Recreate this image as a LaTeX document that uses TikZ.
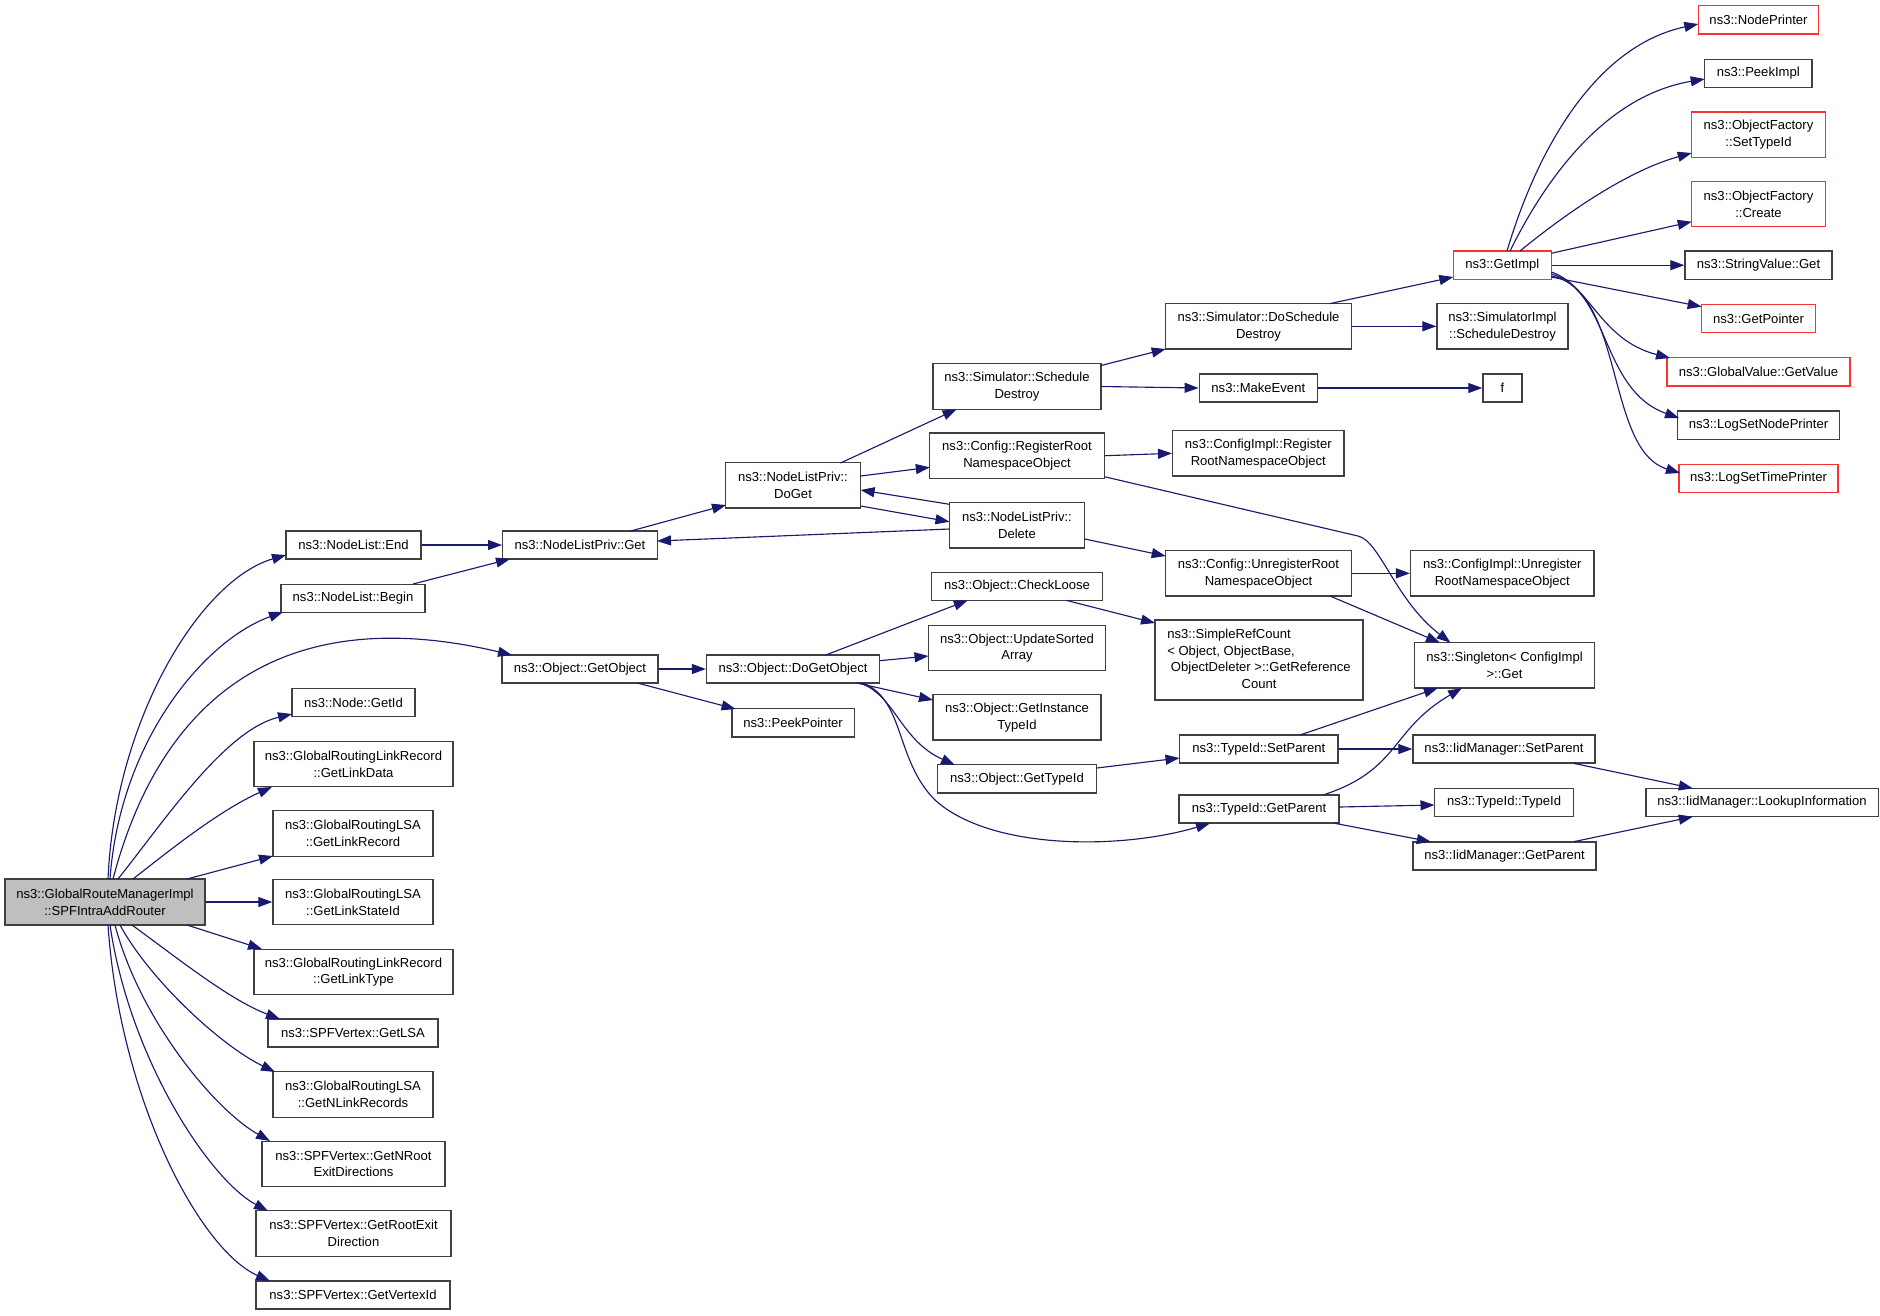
\documentclass[tikz,border=0pt]{standalone}
\usepackage{fontspec}
\setmainfont{Liberation Sans}
\usetikzlibrary{arrows.meta,calc}
\definecolor{edgec}{RGB}{25,25,112}
\definecolor{boxc}{RGB}{64,64,64}
\definecolor{redc}{RGB}{255,48,48}
\definecolor{mainfill}{RGB}{191,191,191}
\newcommand\nodefont{\fontsize{9.8}{12.5}\selectfont}
\tikzset{
 box/.style={draw=boxc, line width=1.05pt, fill=white, inner sep=0pt, align=center, font=\nodefont, text=black},
 redbox/.style={box, draw=redc},
 sz/.style 2 args={minimum width=#1*0.75pt, minimum height=#2*0.75pt},
 conn/.style={draw=edgec, line width=0.85pt, -{Triangle[length=10.5pt,width=7.5pt]}},
}
\begin{document}
\begin{tikzpicture}[x=0.75pt,y=-0.75pt]
\useasboundingbox (0,0) rectangle (1880,1315);
% ---- left column
\node[box, fill=mainfill, sz={200}{46}] (main) at (105,902) {ns3::GlobalRouteManagerImpl\\::SPFIntraAddRouter};
\node[box, sz={135}{28.3}] (end) at (353.5,545) {ns3::NodeList::End};
\node[box, sz={144}{28.3}] (begin) at (353,598.5) {ns3::NodeList::Begin};
\node[box, sz={123}{28.3}] (getid) at (353.5,702.5) {ns3::Node::GetId};
\node[box, sz={199}{45.5}] (linkdata) at (353.5,764) {ns3::GlobalRoutingLinkRecord\\::GetLinkData};
\node[box, sz={160}{45.5}] (linkrecord) at (353,833.5) {ns3::GlobalRoutingLSA\\::GetLinkRecord};
\node[box, sz={160}{45.5}] (linkstateid) at (353,902) {ns3::GlobalRoutingLSA\\::GetLinkStateId};
\node[box, sz={199}{45.5}] (linktype) at (353.5,972) {ns3::GlobalRoutingLinkRecord\\::GetLinkType};
\node[box, sz={170}{28.3}] (getlsa) at (353,1033) {ns3::SPFVertex::GetLSA};
\node[box, sz={160}{45.5}] (nlinkrec) at (353,1094.5) {ns3::GlobalRoutingLSA\\::GetNLinkRecords};
\node[box, sz={183}{45.5}] (nroot) at (353.5,1164) {ns3::SPFVertex::GetNRoot\\ExitDirections};
\node[box, sz={195}{45.5}] (rootexit) at (353.5,1233.5) {ns3::SPFVertex::GetRootExit\\Direction};
\node[box, sz={194}{28.3}] (vertexid) at (353,1295) {ns3::SPFVertex::GetVertexId};
% ---- second columns
\node[box, sz={154.5}{28.3}] (nlpget) at (580,545) {ns3::NodeListPriv::Get};
\node[box, sz={134.8}{45.5}] (doget) at (793,485.3) {ns3::NodeListPriv::\\DoGet};
\node[box, sz={156}{28.3}] (getobject) at (580,669) {ns3::Object::GetObject};
\node[box, sz={172.8}{28.3}] (dogetobject) at (793,669) {ns3::Object::DoGetObject};
\node[box, sz={122.4}{28.3}] (peekpointer) at (793,722.7) {ns3::PeekPointer};
\node[box, sz={168}{45.5}] (schedd) at (1017,386.5) {ns3::Simulator::Schedule\\Destroy};
\node[box, sz={174.6}{45.5}] (regroot) at (1017,455.7) {ns3::Config::RegisterRoot\\NamespaceObject};
\node[box, sz={135}{45.5}] (delete) at (1017,525.3) {ns3::NodeListPriv::\\Delete};
\node[box, sz={170.6}{28.3}] (checkloose) at (1017,586.5) {ns3::Object::CheckLoose};
\node[box, sz={177.5}{45.5}] (updsorted) at (1017,648) {ns3::Object::UpdateSorted\\Array};
\node[box, sz={168}{45.5}] (getinst) at (1017,717.3) {ns3::Object::GetInstance\\TypeId};
\node[box, sz={159.4}{28.3}] (gettypeid) at (1017,778.7) {ns3::Object::GetTypeId};
\node[box, sz={185.6}{45.5}] (doschedd) at (1258.5,326.3) {ns3::Simulator::DoSchedule\\Destroy};
\node[box, sz={118}{28.3}] (makeevent) at (1258.3,388) {ns3::MakeEvent};
\node[box, sz={171.3}{45.5}] (cfgregister) at (1258.3,453.3) {ns3::ConfigImpl::Register\\RootNamespaceObject};
\node[box, sz={185.6}{45.5}] (unregroot) at (1258.5,573.3) {ns3::Config::UnregisterRoot\\NamespaceObject};
\node[box, sz={208}{80.3}] (simplerc) at (1259,660) {\begin{tabular}{@{}l@{}}ns3::SimpleRefCount\\< Object, ObjectBase,\\\ ObjectDeleter >::GetReference\\\multicolumn{1}{@{}c@{}}{Count}\end{tabular}};
\node[box, sz={158.5}{28.3}] (tsetparent) at (1258.7,749) {ns3::TypeId::SetParent};
\node[box, sz={160}{28.3}] (tgetparent) at (1259,809) {ns3::TypeId::GetParent};
\node[box, sz={131}{45.5}] (simimpl) at (1502.5,326.3) {ns3::SimulatorImpl\\::ScheduleDestroy};
\node[box, sz={39}{28.3}] (f) at (1502.5,388) {f};
\node[redbox, sz={98}{28.3}] (getimpl) at (1502.3,265.2) {ns3::GetImpl};
\node[box, sz={183.3}{45.5}] (cfgunreg) at (1502.3,573.3) {ns3::ConfigImpl::Unregister\\RootNamespaceObject};
\node[box, sz={180}{45.5}] (singleton) at (1504.5,665.3) {ns3::Singleton< ConfigImpl\\ >::Get};
\node[box, sz={182}{28.3}] (isetparent) at (1504,749) {ns3::IidManager::SetParent};
\node[box, sz={139.5}{28.3}] (ttypeid) at (1504,802.5) {ns3::TypeId::TypeId};
\node[box, sz={183}{28.3}] (igetparent) at (1504.5,856) {ns3::IidManager::GetParent};
\node[redbox, sz={120.4}{28.3}] (nodeprinter) at (1758.5,19.8) {ns3::NodePrinter};
\node[box, sz={107.3}{28.3}] (peekimpl) at (1758.3,73.5) {ns3::PeekImpl};
\node[redbox, sz={133.6}{45.5}] (settypeid) at (1758.5,134.7) {ns3::ObjectFactory\\::SetTypeId};
\node[redbox, sz={133.6}{45.5}] (create) at (1758.5,204) {ns3::ObjectFactory\\::Create};
\node[box, sz={147}{28.3}] (stringget) at (1758.5,265.2) {ns3::StringValue::Get};
\node[redbox, sz={113.6}{28.3}] (getpointer) at (1758.5,318.5) {ns3::GetPointer};
\node[redbox, sz={183}{28.3}] (gvgetvalue) at (1758.5,371.8) {ns3::GlobalValue::GetValue};
\node[box, sz={161.6}{28.3}] (lognode) at (1758.5,425.2) {ns3::LogSetNodePrinter};
\node[redbox, sz={159}{28.3}] (logtime) at (1758.5,478.5) {ns3::LogSetTimePrinter};
\node[box, sz={232.4}{28.3}] (lookup) at (1762,802.5) {ns3::IidManager::LookupInformation};
% ---- edges from main
\draw[conn] ($(main)+(3,-23)$) .. controls (115,720) and (200,580) .. ($(end)+(-67.5,10)$);
\draw[conn] ($(main)+(5,-23)$) .. controls (120,740) and (205,640) .. ($(begin)+(-70,13.5)$);
\draw[conn] ($(main)+(8,-23)$) .. controls (160,700) and (280,600) .. ($(getobject)+(-68,-14)$);
\draw[conn] ($(main)+(13,-23)$) .. controls (165,820) and (225,730) .. ($(getid)+(-61.5,11.5)$);
\draw[conn] ($(main)+(28,-23)$) .. controls (170,850) and (220,810) .. ($(linkdata)+(-81.5,23)$);
\draw[conn] ($(main)+(82,-23)$) -- ($(linkrecord)+(-80,22.5)$);
\draw[conn] (main.east) -- (linkstateid.west);
\draw[conn] ($(main)+(82,23)$) -- ($(linktype)+(-91.5,-23)$);
\draw[conn] ($(main)+(27,23)$) .. controls (180,960) and (230,1000) .. ($(getlsa)+(-73,-14)$);
\draw[conn] ($(main)+(15,23)$) .. controls (150,980) and (220,1045) .. ($(nlinkrec)+(-78,-22.5)$);
\draw[conn] ($(main)+(10,23)$) .. controls (140,1020) and (215,1110) .. ($(nroot)+(-83.5,-23)$);
\draw[conn] ($(main)+(5,23)$) .. controls (130,1060) and (210,1180) .. ($(rootexit)+(-85.5,-22.5)$);
\draw[conn] ($(main)+(3,23)$) .. controls (120,1100) and (200,1250) .. ($(vertexid)+(-83,-14)$);
% ---- NodeList
\draw[conn] (end.east) -- (nlpget.west);
\draw[conn] ($(begin)+(60,-14.5)$) -- ($(nlpget)+(-70,14)$);
\draw[conn] ($(nlpget)+(50.7,-14)$) -- ($(doget)+(-67,19.7)$);
\draw[conn] ($(doget)+(47.5,-22.3)$) -- ($(schedd)+(-60.4,22.8)$);
\draw[conn] ($(doget)+(67.6,-9.3)$) -- ($(regroot)+(-87.2,11.6)$);
\draw[conn] ($(doget)+(67.6,20.7)$) -- ($(delete)+(-67.5,-3.6)$);
\draw[conn] ($(delete)+(-67.5,-21)$) -- ($(doget)+(67.6,4.7)$);
\draw[conn] ($(delete)+(-67.5,3.7)$) -- ($(nlpget)+(77,-4)$);
\draw[conn] ($(delete)+(67.7,13.7)$) -- ($(unregroot)+(-92.8,-17.3)$);
% ---- Simulator
\draw[conn] ($(schedd)+(84,-21)$) -- ($(doschedd)+(-92.8,22.7)$);
\draw[conn] (schedd.east) -- (makeevent.west);
\draw[conn] (makeevent.east) -- (f.west);
\draw[conn] ($(doschedd)+(71,-22.6)$) -- ($(getimpl)+(-49,11.8)$);
\draw[conn] (doschedd.east) -- (simimpl.west);
% ---- Config
\draw[conn] (regroot.east) -- (cfgregister.west);
\draw[conn] ($(regroot)+(87.4,21)$) -- (1358,536) .. controls (1380,541) and (1395,600) .. ($(singleton)+(-54,-22.6)$);
\draw[conn] (unregroot.east) -- (cfgunreg.west);
\draw[conn] ($(unregroot)+(71.5,22.7)$) -- ($(singleton)+(-64.5,-22.6)$);
% ---- GetImpl
\draw[conn] ($(getimpl)+(4.7,-14.2)$) .. controls (1540,140) and (1600,45) .. ($(nodeprinter)+(-60.2,4.2)$);
\draw[conn] ($(getimpl)+(7.7,-14.2)$) .. controls (1550,170) and (1610,95) .. ($(peekimpl)+(-53.6,5.5)$);
\draw[conn] ($(getimpl)+(17.7,-14.2)$) .. controls (1570,210) and (1630,170) .. ($(settypeid)+(-66.8,18.3)$);
\draw[conn] ($(getimpl)+(49,-11.9)$) -- ($(create)+(-66.8,17.7)$);
\draw[conn] (getimpl.east) -- (stringget.west);
\draw[conn] ($(getimpl)+(49,11.8)$) -- ($(getpointer)+(-56.8,-11.8)$);
\draw[conn] ($(getimpl)+(49,6.8)$) .. controls (1590,285) and (1600,340) .. ($(gvgetvalue)+(-88.5,-13.8)$);
\draw[conn] ($(getimpl)+(49,8.8)$) .. controls (1610,290) and (1600,390) .. ($(lognode)+(-79.5,-7.2)$);
\draw[conn] ($(getimpl)+(49,10.8)$) .. controls (1625,290) and (1605,450) .. ($(logtime)+(-78.5,-5.5)$);
% ---- Object
\draw[conn] (getobject.east) -- (dogetobject.west);
\draw[conn] ($(getobject)+(57.4,14)$) -- ($(peekpointer)+(-57.4,-13.7)$);
\draw[conn] ($(dogetobject)+(32,-13.7)$) -- ($(checkloose)+(-49.2,13.8)$);
\draw[conn] ($(dogetobject)+(86.4,-8.3)$) -- ($(updsorted)+(-88.5,8)$);
\draw[conn] ($(dogetobject)+(63.7,14)$) -- ($(getinst)+(-84,-17.3)$);
\draw[conn] ($(dogetobject)+(67,14)$) .. controls (895,695) and (900,740) .. ($(gettypeid)+(-62,-13.7)$);
\draw[conn] ($(dogetobject)+(70,14)$) .. controls (905,700) and (895,760) .. (935,800) .. controls (990,850) and (1120,850) .. ($(tgetparent)+(-49,14.3)$);
\draw[conn] ($(checkloose)+(49,13.8)$) -- ($(simplerc)+(-104,-37)$);
\draw[conn] ($(gettypeid)+(79.8,-10.7)$) -- ($(tsetparent)+(-79.2,9)$);
% ---- TypeId
\draw[conn] ($(tsetparent)+(41.3,-14)$) -- ($(singleton)+(-66.7,22.7)$);
\draw[conn] (tsetparent.east) -- (isetparent.west);
\draw[conn] ($(tgetparent)+(64,-14)$) .. controls (1400,770) and (1390,730) .. ($(singleton)+(-42.5,22.7)$);
\draw[conn] ($(tgetparent)+(80,-2)$) -- ($(ttypeid)+(-69.5,2.5)$);
\draw[conn] ($(tgetparent)+(75.8,14.3)$) -- ($(igetparent)+(-73.7,-14.3)$);
\draw[conn] ($(isetparent)+(69.5,14.3)$) -- ($(lookup)+(-69.2,-14.2)$);
\draw[conn] ($(igetparent)+(69,-14.3)$) -- ($(lookup)+(-69.2,14.2)$);
\end{tikzpicture}
\end{document}
